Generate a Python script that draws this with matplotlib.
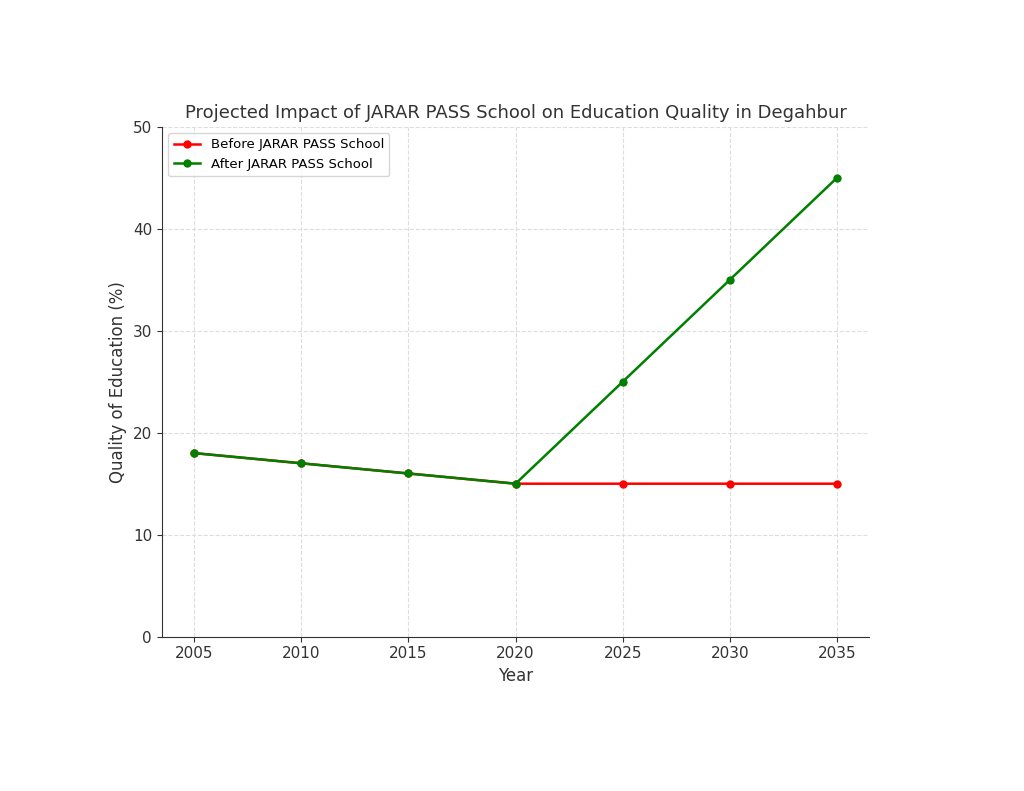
import matplotlib.pyplot as plt

years = [2005, 2010, 2015, 2020, 2025, 2030, 2035]
before = [18, 17, 16, 15, 15, 15, 15]
after = [18, 17, 16, 15, 25, 35, 45]

fig = plt.figure(figsize=(10.24, 7.91), dpi=100)
ax = fig.add_axes([0.158, 0.195, 0.691, 0.645])

ax.plot(years, before, marker='o', color='red', markersize=5, linewidth=1.8, label='Before JARAR PASS School')
ax.plot(years, after, marker='o', color='green', markersize=5, linewidth=1.8, label='After JARAR PASS School')

ax.set_ylim(0, 50)
ax.set_xticks(years)
ax.set_title('Projected Impact of JARAR PASS School on Education Quality in Degahbur',
             fontsize=13, color='#333333', pad=6)
ax.set_xlabel('Year', fontsize=12, color='#333333')
ax.set_ylabel('Quality of Education (%)', fontsize=12, color='#333333')
ax.tick_params(labelsize=11, colors='#333333')
ax.grid(True, linestyle='--', color='#dddddd', linewidth=0.8)
ax.spines['top'].set_visible(False)
ax.spines['right'].set_visible(False)
ax.spines['left'].set_color('#333333')
ax.spines['bottom'].set_color('#333333')
ax.legend(loc='upper left', fontsize=9.5)

plt.savefig('out.png')
